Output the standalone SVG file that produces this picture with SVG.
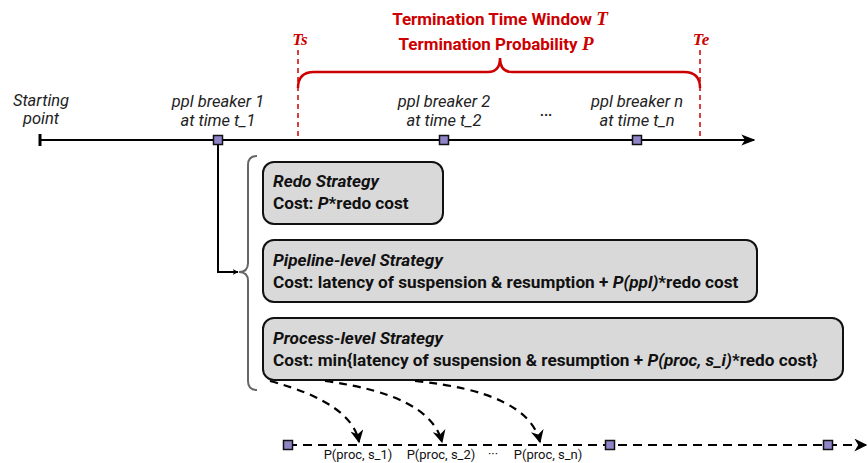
<svg xmlns="http://www.w3.org/2000/svg" width="868" height="463" viewBox="0 0 868 463">
<style>
text{font-family:Roboto,"Liberation Sans",sans-serif}
.lbl{font-size:16.5px;font-style:italic;fill:#222;text-anchor:middle}
.red{fill:#cc0000;font-weight:bold;font-size:17px;text-anchor:middle}
.ser{font-family:"Liberation Serif",serif;font-style:italic;font-weight:bold}
.box{fill:#d9d9d9;stroke:#111;stroke-width:2}
.bt{font-size:17.2px;font-weight:bold;fill:#111}
.it{font-style:italic}
.sq{fill:#8f84c8;stroke:#111;stroke-width:1.5}
.small{font-size:13px;fill:#111;text-anchor:middle}
</style>
<defs>
<marker id="ah" viewBox="0 0 10 10" refX="9" refY="5" markerWidth="6" markerHeight="6" orient="auto" markerUnits="userSpaceOnUse">
<path d="M0,0 L10,5 L0,10 L3,5 z" fill="#000"/>
</marker>
<marker id="ah2" viewBox="0 0 10 10" refX="9" refY="5" markerWidth="14" markerHeight="14" orient="auto" markerUnits="userSpaceOnUse">
<path d="M0,1 L10,5 L0,9 L2.5,5 z" fill="#000"/>
</marker>
<marker id="ah3" viewBox="0 0 10 10" refX="9" refY="5" markerWidth="14" markerHeight="13" orient="auto" markerUnits="userSpaceOnUse">
<path d="M0,0 L10,5 L0,10 L3,5 z" fill="#000"/>
</marker>
</defs>

<g id="termination-window">
<line x1="298" y1="50" x2="298" y2="138" stroke="#cc0000" stroke-width="1.5" stroke-dasharray="5,4"/>
<line x1="700" y1="50" x2="700" y2="138" stroke="#cc0000" stroke-width="1.5" stroke-dasharray="5,4"/>
<path d="M298,88 Q298,72 314,72 L488,72 Q500,72 500,58 Q500,72 512,72 L684,72 Q700,72 700,88" fill="none" stroke="#cc0000" stroke-width="2.5"/>
<text class="red" x="500" y="25">Termination Time Window <tspan class="ser" font-size="19">T</tspan></text>
<text class="red" x="496" y="50">Termination Probability <tspan class="ser" font-size="19">P</tspan></text>
<text class="red ser" x="300" y="45" font-size="16">Ts</text>
<text class="red ser" x="701" y="45" font-size="16">Te</text>
</g>

<g id="timeline">
<line x1="40" y1="140" x2="754" y2="140" stroke="#000" stroke-width="2" marker-end="url(#ah2)"/>
<line x1="40" y1="134" x2="40" y2="146" stroke="#000" stroke-width="3"/>
</g>

<g id="starting-point">
<text class="lbl" x="41" y="106">Starting</text>
<text class="lbl" x="41" y="124">point</text>
</g>

<g id="breaker-1">
<rect class="sq" x="213.5" y="135.5" width="9" height="9"/>
<text class="lbl" x="218" y="107">ppl breaker 1</text>
<text class="lbl" x="218" y="126">at time t_1</text>
</g>
<g id="breaker-2">
<rect class="sq" x="439.5" y="135.5" width="9" height="9"/>
<text class="lbl" x="444" y="107">ppl breaker 2</text>
<text class="lbl" x="444" y="126">at time t_2</text>
</g>
<g id="ellipsis">
<text x="546" y="120" font-size="14" font-weight="bold" fill="#222" text-anchor="middle">···</text>
</g>
<g id="breaker-n">
<rect class="sq" x="632.5" y="135.5" width="9" height="9"/>
<text class="lbl" x="637" y="107">ppl breaker n</text>
<text class="lbl" x="637" y="126">at time t_n</text>
</g>

<g id="strategy-brace">
<path d="M257,156 Q248,156 248,165 L248,263 Q248,272 239,272 Q248,272 248,281 L248,381 Q248,390 257,390" fill="none" stroke="#666" stroke-width="2"/>
</g>

<g id="redo-strategy">
<rect class="box" x="263" y="162" width="180" height="62" rx="11"/>
<text class="bt" x="273" y="187"><tspan class="it">Redo Strategy</tspan></text>
<text class="bt" x="273" y="209">Cost: <tspan class="it">P</tspan>*redo cost</text>
</g>

<g id="pipeline-strategy">
<rect class="box" x="263" y="240" width="494" height="62" rx="11"/>
<text class="bt" x="273" y="266"><tspan class="it">Pipeline-level Strategy</tspan></text>
<text class="bt" x="273" y="288">Cost: latency of suspension &amp; resumption + <tspan class="it">P(ppl)</tspan>*redo cost</text>
</g>

<g id="process-strategy">
<rect class="box" x="263" y="318" width="580" height="62" rx="11"/>
<text class="bt" x="273" y="344"><tspan class="it">Process-level Strategy</tspan></text>
<text class="bt" x="273" y="366">Cost: min{latency of suspension &amp; resumption + <tspan class="it">P(proc, s_i)</tspan>*redo cost}</text>
</g>

<g id="process-timeline">
<line x1="288" y1="445" x2="866" y2="445" stroke="#000" stroke-width="2.2" stroke-dasharray="9,6" marker-end="url(#ah3)"/>
<rect class="sq" x="283.5" y="440.5" width="9" height="9"/>
<rect class="sq" x="605.5" y="440.5" width="9" height="9"/>
<rect class="sq" x="823.5" y="440.5" width="9" height="9"/>
<text class="small" x="358" y="459">P(proc, s_1)</text>
<text class="small" x="441" y="459">P(proc, s_2)</text>
<text class="small" x="493" y="458">···</text>
<text class="small" x="548" y="459">P(proc, s_n)</text>
</g>

<g id="connectors" fill="none" stroke="#000" stroke-width="2">
<path d="M218,145 L218,272 L238,272" marker-end="url(#ah)"/>
<path d="M270,381 Q352,403 359,442" stroke-width="2.2" stroke-dasharray="8,6" marker-end="url(#ah3)"/>
<path d="M325,381 Q430,395 442,442" stroke-width="2.2" stroke-dasharray="8,6" marker-end="url(#ah3)"/>
<path d="M415,381 Q528,392 540,442" stroke-width="2.2" stroke-dasharray="8,6" marker-end="url(#ah3)"/>
</g>
</svg>
